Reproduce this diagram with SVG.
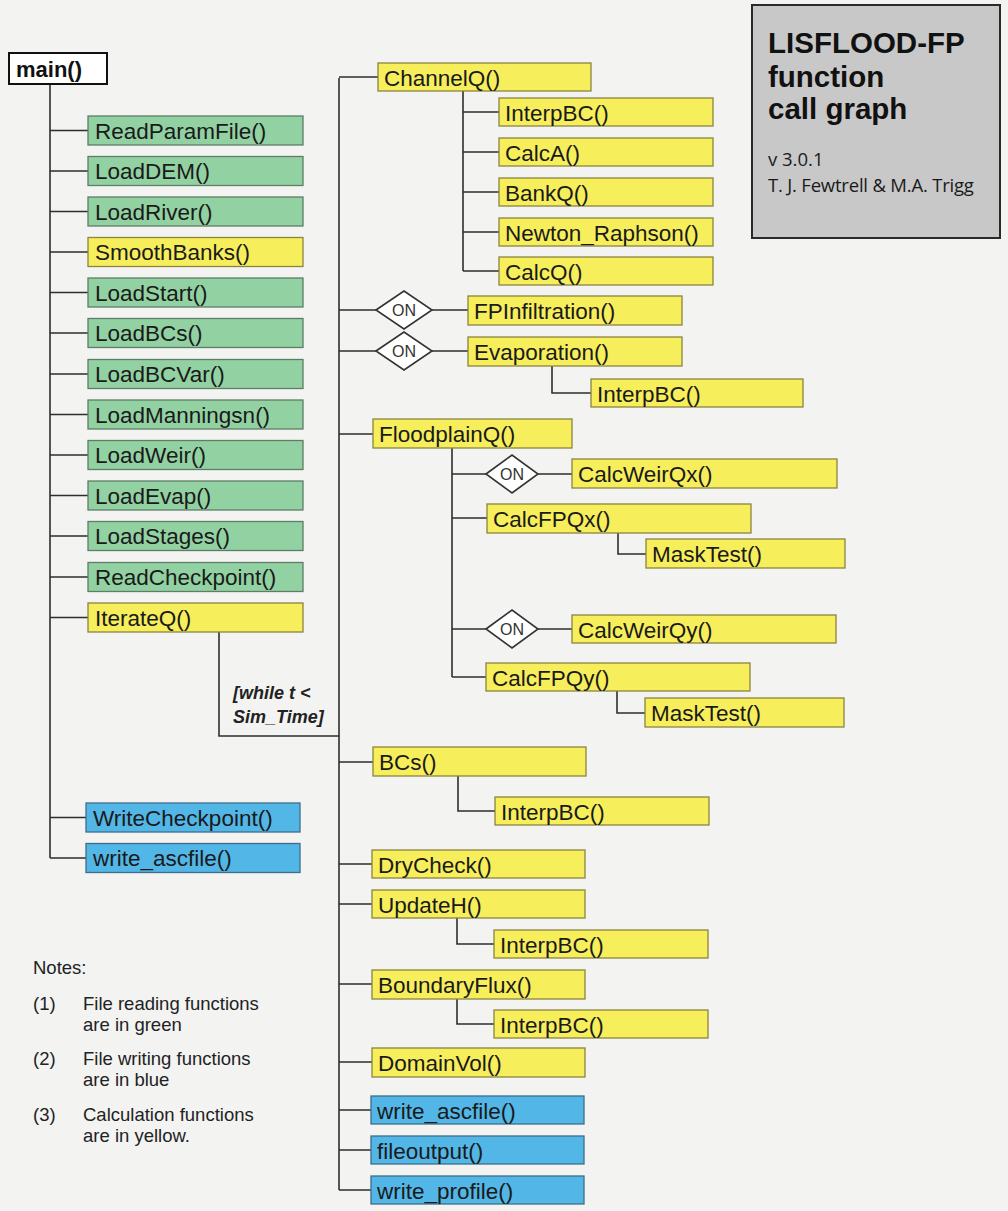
<svg xmlns="http://www.w3.org/2000/svg" width="1008" height="1211" viewBox="0 0 1008 1211">
<style>
.g{fill:#92d1a2;stroke:#5d7d66;stroke-width:1.3}
.y{fill:#f7ee5c;stroke:#8a8440;stroke-width:1.3}
.b{fill:#52b6e6;stroke:#3d6f8a;stroke-width:1.3}
.t{font-family:"Liberation Sans",Arial,sans-serif;font-size:22.5px;fill:#1a1a1a}
.on{font-family:"Liberation Sans",Arial,sans-serif;font-size:16px;fill:#333;text-anchor:middle}
.d{fill:#ffffff;stroke:#333;stroke-width:1.6}
.ln{fill:none;stroke:#2e2e2e;stroke-width:1.6}
.n{font-family:"Liberation Sans",Arial,sans-serif;font-size:18.5px;fill:#222}
.tt{font-family:"Liberation Sans",Arial,sans-serif;font-weight:bold;font-size:29.5px;fill:#111}
.ts{font-family:"Open Sans","Noto Sans",sans-serif;font-size:18.5px;fill:#1a1a1a}
</style>
<rect x="0" y="0" width="1008" height="1211" fill="#f3f3f2"/>

<g id="title">
<rect x="752" y="5" width="248" height="233" fill="#c8c8c8" stroke="#2a2a2a" stroke-width="2"/>
<text class="tt" x="768" y="53">LISFLOOD-FP</text>
<text class="tt" x="768" y="87">function</text>
<text class="tt" x="768" y="119">call graph</text>
<text class="ts" x="768" y="166">v 3.0.1</text>
<text class="ts" x="768" y="192" letter-spacing="-0.2">T. J. Fewtrell &amp; M.A. Trigg</text>
</g>

<g id="connectors">
<path class="ln" d="M50 84V858 M50 130.5H88 M50 171H88 M50 211.5H88 M50 252H88 M50 292.5H88 M50 333H88 M50 374H88 M50 414.5H88 M50 455H88 M50 495.5H88 M50 536H88 M50 577H88 M50 617.5H88 M50 817.5H86 M50 858H86"/>
<path class="ln" d="M219 632V736H339"/>
<path class="ln" d="M339 78V1190 M339 77H378 M339 310H376 M432 310H468 M339 351H376 M432 351H468 M339 434H373 M339 762H373 M339 864H372 M339 904H372 M339 984H372 M339 1062H372 M339 1110H371 M339 1150H371 M339 1190H371"/>
<path class="ln" d="M463 91V271 M463 112H499 M463 152H499 M463 192H499 M463 232H499 M463 271H499"/>
<path class="ln" d="M552 366V393H591"/>
<path class="ln" d="M452 448V677 M452 474H486 M538 474H572 M452 518H487 M452 629H486 M538 629H572 M452 677H486"/>
<path class="ln" d="M618 533V554H646 M617 691V713H645"/>
<path class="ln" d="M458 776V811H495 M457 918V944H494 M457 999V1024H494"/>
<text x="233" y="699" font-family="Liberation Sans,Arial,sans-serif" font-weight="bold" font-style="italic" font-size="18" fill="#222">[while t &lt;</text>
<text x="233" y="723" font-family="Liberation Sans,Arial,sans-serif" font-weight="bold" font-style="italic" font-size="18" fill="#222">Sim_Time]</text>
</g>

<g id="main"><rect x="9" y="53" width="98" height="31" fill="#fff" stroke="#111" stroke-width="2"/><text x="16" y="77" font-family="Liberation Sans,Arial,sans-serif" font-weight="bold" font-size="22" fill="#111">main()</text></g>

<g id="ReadParamFile"><rect class="g" x="88" y="116" width="215" height="29"/><text class="t" x="95" y="138.5">ReadParamFile()</text></g>
<g id="LoadDEM"><rect class="g" x="88" y="156.5" width="215" height="29"/><text class="t" x="95" y="179">LoadDEM()</text></g>
<g id="LoadRiver"><rect class="g" x="88" y="197" width="215" height="29"/><text class="t" x="95" y="219.5">LoadRiver()</text></g>
<g id="SmoothBanks"><rect class="y" x="88" y="237.5" width="215" height="29"/><text class="t" x="95" y="260">SmoothBanks()</text></g>
<g id="LoadStart"><rect class="g" x="88" y="278" width="215" height="29"/><text class="t" x="95" y="300.5">LoadStart()</text></g>
<g id="LoadBCs"><rect class="g" x="88" y="318.5" width="215" height="29"/><text class="t" x="95" y="341">LoadBCs()</text></g>
<g id="LoadBCVar"><rect class="g" x="88" y="359.5" width="215" height="29"/><text class="t" x="95" y="382">LoadBCVar()</text></g>
<g id="LoadManningsn"><rect class="g" x="88" y="400" width="215" height="29"/><text class="t" x="95" y="422.5">LoadManningsn()</text></g>
<g id="LoadWeir"><rect class="g" x="88" y="440.5" width="215" height="29"/><text class="t" x="95" y="463">LoadWeir()</text></g>
<g id="LoadEvap"><rect class="g" x="88" y="481" width="215" height="29"/><text class="t" x="95" y="503.5">LoadEvap()</text></g>
<g id="LoadStages"><rect class="g" x="88" y="521.5" width="215" height="29"/><text class="t" x="95" y="544">LoadStages()</text></g>
<g id="ReadCheckpoint"><rect class="g" x="88" y="562.5" width="215" height="29"/><text class="t" x="95" y="585">ReadCheckpoint()</text></g>
<g id="IterateQ"><rect class="y" x="88" y="603" width="215" height="29"/><text class="t" x="95" y="625.5">IterateQ()</text></g>
<g id="WriteCheckpoint"><rect class="b" x="86" y="803" width="214" height="29"/><text class="t" x="93" y="825.5">WriteCheckpoint()</text></g>
<g id="write_ascfile_1"><rect class="b" x="86" y="843.5" width="214" height="29"/><text class="t" x="93" y="866">write_ascfile()</text></g>

<g id="ChannelQ"><rect class="y" x="378" y="63" width="213" height="28"/><text class="t" x="384" y="85.5">ChannelQ()</text></g>
<g id="InterpBC_1"><rect class="y" x="499" y="98" width="214" height="28"/><text class="t" x="505" y="120.5">InterpBC()</text></g>
<g id="CalcA"><rect class="y" x="499" y="138" width="214" height="28"/><text class="t" x="505" y="160.5">CalcA()</text></g>
<g id="BankQ"><rect class="y" x="499" y="178" width="214" height="28"/><text class="t" x="505" y="200.5">BankQ()</text></g>
<g id="Newton_Raphson"><rect class="y" x="499" y="218" width="214" height="28"/><text class="t" x="505" y="240.5">Newton_Raphson()</text></g>
<g id="CalcQ"><rect class="y" x="499" y="257" width="214" height="28"/><text class="t" x="505" y="279.5">CalcQ()</text></g>

<g id="on_1"><polygon class="d" points="376,310 404,291 432,310 404,329"/><text class="on" x="404" y="315.5">ON</text></g>
<g id="FPInfiltration"><rect class="y" x="468" y="296" width="214" height="29"/><text class="t" x="474" y="318.5">FPInfiltration()</text></g>
<g id="on_2"><polygon class="d" points="376,351 404,332 432,351 404,370"/><text class="on" x="404" y="356.5">ON</text></g>
<g id="Evaporation"><rect class="y" x="468" y="337" width="214" height="29"/><text class="t" x="474" y="359.5">Evaporation()</text></g>
<g id="InterpBC_2"><rect class="y" x="591" y="379" width="212" height="28"/><text class="t" x="597" y="401.5">InterpBC()</text></g>

<g id="FloodplainQ"><rect class="y" x="373" y="419" width="199" height="29"/><text class="t" x="379" y="441.5">FloodplainQ()</text></g>
<g id="on_3"><polygon class="d" points="486,474 512,455 538,474 512,493"/><text class="on" x="512" y="479.5">ON</text></g>
<g id="CalcWeirQx"><rect class="y" x="572" y="459" width="265" height="29"/><text class="t" x="578" y="481.5">CalcWeirQx()</text></g>
<g id="CalcFPQx"><rect class="y" x="487" y="504" width="264" height="29"/><text class="t" x="493" y="526.5">CalcFPQx()</text></g>
<g id="MaskTest_1"><rect class="y" x="646" y="539" width="199" height="29"/><text class="t" x="652" y="561.5">MaskTest()</text></g>
<g id="on_4"><polygon class="d" points="486,629 512,610 538,629 512,648"/><text class="on" x="512" y="634.5">ON</text></g>
<g id="CalcWeirQy"><rect class="y" x="572" y="615" width="264" height="28"/><text class="t" x="578" y="637.5">CalcWeirQy()</text></g>
<g id="CalcFPQy"><rect class="y" x="486" y="663" width="264" height="28"/><text class="t" x="492" y="685.5">CalcFPQy()</text></g>
<g id="MaskTest_2"><rect class="y" x="645" y="698" width="199" height="29"/><text class="t" x="651" y="720.5">MaskTest()</text></g>

<g id="BCs"><rect class="y" x="373" y="747" width="213" height="29"/><text class="t" x="379" y="769.5">BCs()</text></g>
<g id="InterpBC_3"><rect class="y" x="495" y="797" width="214" height="28"/><text class="t" x="501" y="819.5">InterpBC()</text></g>
<g id="DryCheck"><rect class="y" x="372" y="850" width="213" height="28"/><text class="t" x="378" y="872.5">DryCheck()</text></g>
<g id="UpdateH"><rect class="y" x="372" y="890" width="213" height="28"/><text class="t" x="378" y="912.5">UpdateH()</text></g>
<g id="InterpBC_4"><rect class="y" x="494" y="930" width="214" height="28"/><text class="t" x="500" y="952.5">InterpBC()</text></g>
<g id="BoundaryFlux"><rect class="y" x="372" y="970" width="213" height="29"/><text class="t" x="378" y="992.5">BoundaryFlux()</text></g>
<g id="InterpBC_5"><rect class="y" x="494" y="1010" width="214" height="28"/><text class="t" x="500" y="1032.5">InterpBC()</text></g>
<g id="DomainVol"><rect class="y" x="372" y="1048" width="213" height="29"/><text class="t" x="378" y="1070.5">DomainVol()</text></g>
<g id="write_ascfile_2"><rect class="b" x="371" y="1096" width="213" height="28"/><text class="t" x="377" y="1118.5">write_ascfile()</text></g>
<g id="fileoutput"><rect class="b" x="371" y="1136" width="213" height="28"/><text class="t" x="377" y="1158.5">fileoutput()</text></g>
<g id="write_profile"><rect class="b" x="371" y="1176" width="213" height="28"/><text class="t" x="377" y="1198.5">write_profile()</text></g>

<g id="notes">
<text class="n" x="33" y="974">Notes:</text>
<text class="n" x="33" y="1010">(1)</text>
<text class="n" x="83" y="1010">File reading functions</text>
<text class="n" x="83" y="1031">are in green</text>
<text class="n" x="33" y="1065">(2)</text>
<text class="n" x="83" y="1065">File writing functions</text>
<text class="n" x="83" y="1086">are in blue</text>
<text class="n" x="33" y="1121">(3)</text>
<text class="n" x="83" y="1121">Calculation functions</text>
<text class="n" x="83" y="1142">are in yellow.</text>
</g>
</svg>
